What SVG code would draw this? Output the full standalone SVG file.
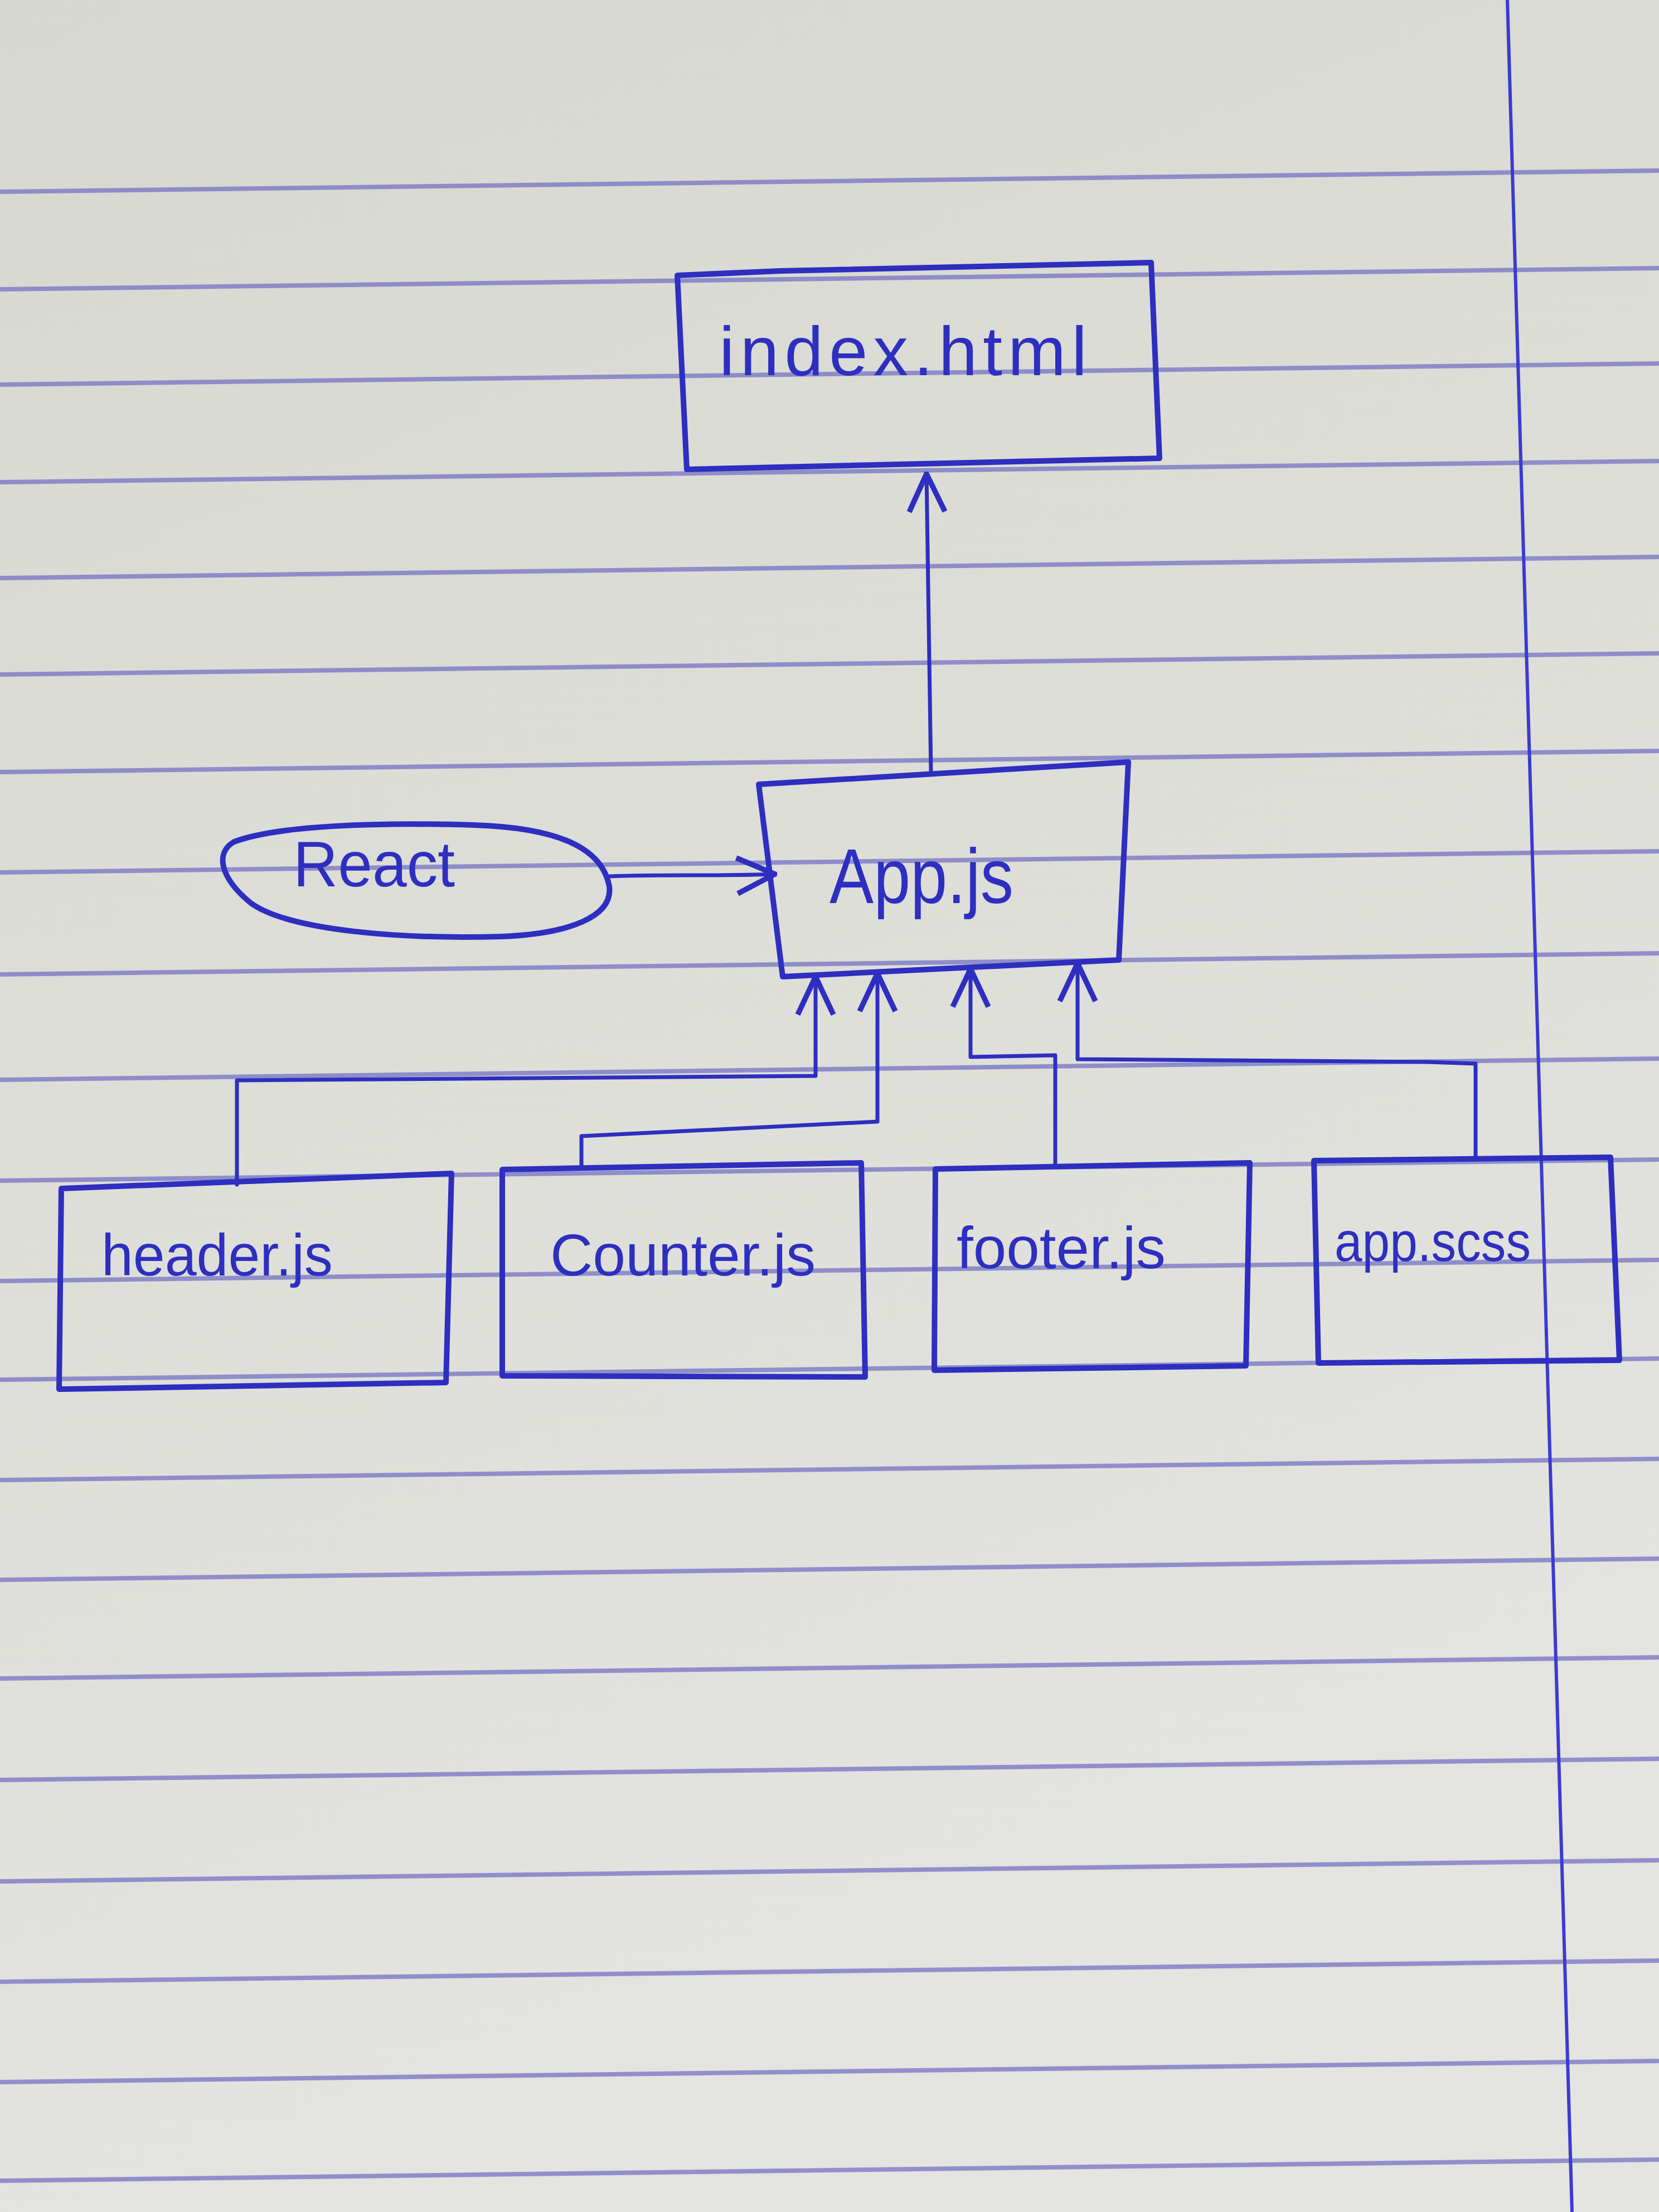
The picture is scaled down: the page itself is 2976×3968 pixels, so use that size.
<svg xmlns="http://www.w3.org/2000/svg" width="2976" height="3968" viewBox="0 0 2976 3968">
<defs>
<linearGradient id="paper" x1="0" y1="0" x2="0.3" y2="1">
<stop offset="0" stop-color="#d6d8d0"/>
<stop offset="0.5" stop-color="#dddeD8"/>
<stop offset="1" stop-color="#e4e4e0"/>
</linearGradient>
<marker id="arrL" viewBox="0 0 20 20" refX="19" refY="10" markerWidth="80" markerHeight="80" markerUnits="userSpaceOnUse" orient="auto">
<path d="M2,2 L19,10 L2,18" fill="none" stroke="#2e2ec0" stroke-width="2.4"/>
</marker>
</defs>
<style>
.ink{fill:none;stroke:#2e2ec0;stroke-width:10;stroke-linejoin:round;stroke-linecap:round}
.con{fill:none;stroke:#2e2ec0;stroke-width:7;stroke-linejoin:round;stroke-linecap:round}
.rule{stroke:#7474c4;stroke-width:8;opacity:0.75}
.lbl{font-family:"Liberation Sans","DejaVu Sans",sans-serif;fill:#2e2ec0}
</style>
<g id="paper-bg">
<rect x="0" y="0" width="2976" height="3968" fill="url(#paper)"/>
<g id="rules">
<line class="rule" x1="0" y1="344" x2="2976" y2="306"/>
<line class="rule" x1="0" y1="519" x2="2976" y2="481"/>
<line class="rule" x1="0" y1="690" x2="2976" y2="652"/>
<line class="rule" x1="0" y1="865" x2="2976" y2="827"/>
<line class="rule" x1="0" y1="1037" x2="2976" y2="999"/>
<line class="rule" x1="0" y1="1210" x2="2976" y2="1172"/>
<line class="rule" x1="0" y1="1385" x2="2976" y2="1347"/>
<line class="rule" x1="0" y1="1565" x2="2976" y2="1527"/>
<line class="rule" x1="0" y1="1748" x2="2976" y2="1710"/>
<line class="rule" x1="0" y1="1937" x2="2976" y2="1899"/>
<line class="rule" x1="0" y1="2118" x2="2976" y2="2080"/>
<line class="rule" x1="0" y1="2298" x2="2976" y2="2260"/>
<line class="rule" x1="0" y1="2475" x2="2976" y2="2437"/>
<line class="rule" x1="0" y1="2655" x2="2976" y2="2617"/>
<line class="rule" x1="0" y1="2834" x2="2976" y2="2796"/>
<line class="rule" x1="0" y1="3011" x2="2976" y2="2973"/>
<line class="rule" x1="0" y1="3193" x2="2976" y2="3155"/>
<line class="rule" x1="0" y1="3375" x2="2976" y2="3337"/>
<line class="rule" x1="0" y1="3555" x2="2976" y2="3517"/>
<line class="rule" x1="0" y1="3735" x2="2976" y2="3697"/>
<line class="rule" x1="0" y1="3912" x2="2976" y2="3874"/>
</g>
<line x1="2704" y1="0" x2="2820" y2="3968" stroke="#3b3bd0" stroke-width="6"/>
</g>
<g id="connectors">
<path class="con" d="M1670,1385 L1662,850" marker-end="url(#arrL)"/>
<path class="con" d="M1093,1572 C1200,1568 1300,1572 1390,1568" marker-end="url(#arrL)"/>
<path class="con" d="M425,2125 L425,1938 L1463,1930 L1463,1752" marker-end="url(#arrL)"/>
<path class="con" d="M1043,2094 L1043,2038 L1574,2012 L1574,1746" marker-end="url(#arrL)"/>
<path class="con" d="M1893,2090 L1893,1893 L1741,1896 L1741,1738" marker-end="url(#arrL)"/>
<path class="con" d="M2647,2078 L2647,1908 L2560,1905 L1933,1900 L1933,1728" marker-end="url(#arrL)"/>
</g>
<g id="node-index">
<path class="ink" d="M1215,494 L1400,486 L2065,471 L2080,822 L1232,842 Z"/>
<text class="lbl" x="1290" y="673" font-size="125" textLength="660" lengthAdjust="spacing">index.html</text>
</g>
<g id="node-react">
<path class="ink" d="M1093,1590 C1080,1520 1000,1485 850,1480 C680,1475 500,1480 420,1510 C385,1530 395,1575 450,1620 C520,1670 720,1685 900,1680 C1020,1675 1100,1645 1093,1590 Z"/>
<text class="lbl" x="526" y="1590" font-size="115" textLength="290" lengthAdjust="spacingAndGlyphs">React</text>
</g>
<g id="node-app">
<path class="ink" d="M1361,1407 L2024,1367 L2007,1722 L1404,1752 Z"/>
<text class="lbl" x="1488" y="1620" font-size="140" textLength="330" lengthAdjust="spacingAndGlyphs">App.js</text>
</g>
<g id="node-header">
<path class="ink" d="M110,2132 L810,2105 L800,2480 L106,2492 Z"/>
<text class="lbl" x="182" y="2288" font-size="105" textLength="415" lengthAdjust="spacingAndGlyphs">header.js</text>
</g>
<g id="node-counter">
<path class="ink" d="M901,2098 L1545,2086 L1552,2470 L901,2468 Z"/>
<text class="lbl" x="987" y="2288" font-size="105" textLength="476" lengthAdjust="spacingAndGlyphs">Counter.js</text>
</g>
<g id="node-footer">
<path class="ink" d="M1678,2097 L2242,2086 L2235,2450 L1676,2458 Z"/>
<text class="lbl" x="1716" y="2275" font-size="105" textLength="375" lengthAdjust="spacingAndGlyphs">footer.js</text>
</g>
<g id="node-appscss">
<path class="ink" d="M2357,2082 L2889,2076 L2905,2440 L2365,2445 Z"/>
<text class="lbl" x="2394" y="2262" font-size="100" textLength="352" lengthAdjust="spacingAndGlyphs">app.scss</text>
</g>
</svg>
